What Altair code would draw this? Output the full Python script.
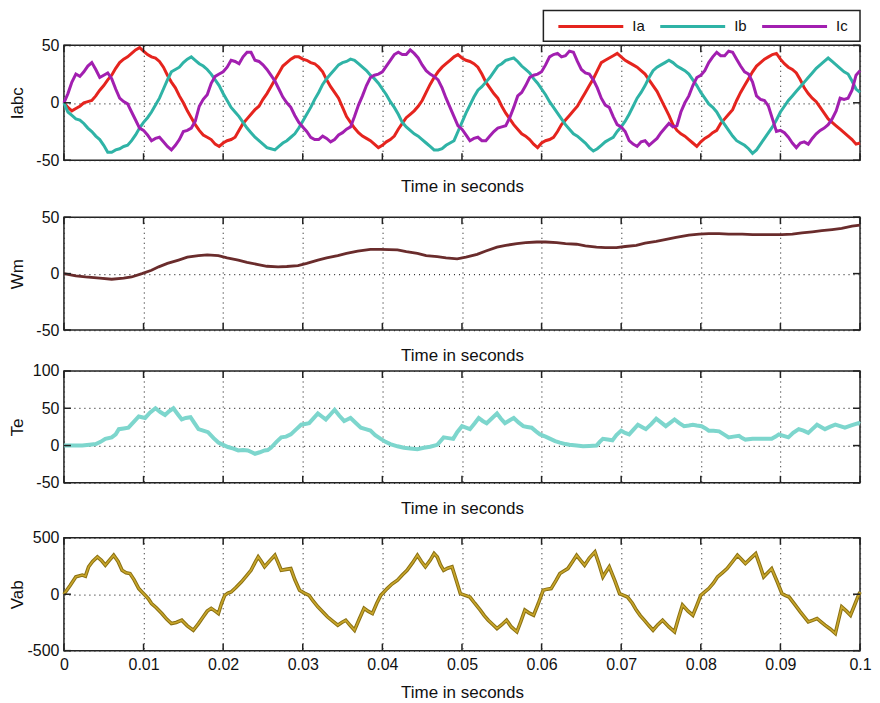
import altair as alt
import pandas as pd

# sampling grid of the phase currents, milliseconds
T_MS = [i * 0.5 for i in range(201)]

IA = [0, -4, -7, -5, -3, 0, 1, 2, 6, 11,
      15, 20, 24, 30, 35, 38, 40, 43, 46, 48,
      45, 42, 40, 39, 36, 31, 24, 18, 13, 6,
      0, -7, -13, -19, -24, -28, -30, -32, -36, -38,
      -35, -33, -32, -30, -24, -18, -14, -10, -6, -3,
      3, 8, 14, 20, 26, 32, 35, 38, 40, 40,
      38, 37, 35, 34, 31, 27, 20, 14, 9, 4,
      -4, -12, -17, -22, -26, -29, -31, -33, -36, -39,
      -37, -34, -32, -29, -23, -18, -13, -10, -7, -3,
      2, 9, 16, 22, 27, 31, 34, 37, 40, 42,
      39, 37, 36, 34, 31, 25, 18, 13, 8, 4,
      -3, -9, -14, -19, -23, -27, -29, -32, -36, -39,
      -35, -33, -32, -30, -25, -19, -15, -11, -7, -3,
      3, 9, 15, 21, 28, 35, 37, 39, 41, 43,
      40, 37, 35, 33, 31, 28, 25, 20, 15, 10,
      3, -4, -11, -19, -24, -27, -29, -32, -35, -38,
      -34, -31, -29, -26, -24, -18, -14, -10, -6, 2,
      9, 15, 21, 27, 32, 35, 38, 40, 42, 43,
      38, 34, 31, 29, 26, 20, 13, 8, 4, 1,
      -4, -9, -14, -17, -20, -23, -26, -29, -32, -36,
      -35]

IB = [0, -8, -11, -14, -15, -18, -22, -25, -29, -32,
      -37, -43, -43, -41, -40, -38, -37, -33, -28, -22,
      -17, -13, -8, -2, 4, 12, 20, 27, 29, 31,
      35, 38, 40, 37, 34, 32, 29, 25, 20, 15,
      8, 2, -4, -8, -12, -17, -22, -26, -30, -33,
      -36, -39, -40, -41, -38, -35, -33, -30, -27, -22,
      -16, -10, -4, 3, 9, 16, 21, 25, 29, 33,
      35, 36, 38, 37, 34, 31, 28, 24, 21, 17,
      12, 7, 1, -4, -10, -17, -21, -24, -27, -29,
      -32, -35, -38, -41, -41, -40, -37, -35, -33, -25,
      -17, -9, -2, 5, 11, 14, 18, 22, 27, 32,
      34, 37, 38, 39, 36, 32, 29, 26, 21, 17,
      12, 7, 1, -4, -9, -14, -19, -23, -27, -29,
      -32, -35, -39, -42, -40, -37, -34, -32, -30, -25,
      -21, -16, -10, -3, 4, 9, 15, 22, 28, 31,
      33, 35, 37, 35, 32, 30, 28, 25, 20, 15,
      9, 4, -1, -4, -8, -14, -19, -24, -29, -33,
      -35, -37, -40, -44, -41, -36, -31, -26, -21, -15,
      -8, -3, 2, 6, 10, 14, 18, 22, 26, 30,
      33, 36, 39, 36, 33, 30, 27, 25, 19, 12,
      9]

IC = [0, 8, 18, 25, 23, 27, 32, 35, 29, 22,
      24, 26, 21, 12, 4, 1, -1, -8, -15, -22,
      -24, -28, -33, -31, -30, -34, -38, -41, -37, -32,
      -25, -24, -22, -16, -3, 3, 7, 17, 23, 25,
      27, 31, 37, 36, 34, 40, 44, 44, 37, 36,
      33, 29, 24, 19, 12, 5, 0, -4, -11, -17,
      -21, -25, -30, -32, -32, -29, -31, -34, -32, -28,
      -26, -23, -21, -12, -2, 6, 15, 22, 24, 25,
      27, 32, 37, 42, 44, 42, 42, 46, 43, 39,
      33, 28, 25, 23, 20, 13, 4, -4, -12, -20,
      -23, -28, -33, -31, -30, -33, -33, -29, -25, -22,
      -21, -20, -13, -4, 6, 9, 15, 22, 24, 25,
      27, 33, 40, 42, 43, 40, 41, 45, 44, 36,
      29, 26, 25, 20, 13, 4, -2, -4, -12, -19,
      -21, -25, -33, -36, -38, -34, -33, -37, -34, -31,
      -26, -22, -18, -21, -20, -8, 0, 6, 15, 22,
      24, 28, 35, 40, 44, 41, 41, 45, 44, 38,
      32, 27, 25, 18, 6, 3, 2, -3, -14, -25,
      -24, -26, -30, -35, -39, -35, -34, -36, -31, -27,
      -24, -22, -19, -14, -7, 4, 3, 4, 11, 24,
      28]

WM_T = [0, 1.5, 2.7, 4.5, 6, 7.5, 8.5, 9.8, 11, 11.9, 13, 14.4, 15.5, 16.9, 18, 19.4,
        20.5, 21.9, 23, 24.4, 25.5, 26.9, 28, 29.4, 30.5, 31.9, 33, 34.4, 35.5, 36.9,
        38.5, 39.8, 41.9, 43, 44.4, 45.5, 46.9, 48, 49.4, 50.5, 51.9, 53, 54.4, 55.5,
        56.9, 58, 59.4, 60.5, 61.9, 63, 64.4, 65.5, 66.9, 68, 69.4, 70.5, 71.9, 73,
        74.4, 75.5, 76.9, 78.5, 79.8, 81, 82.3, 83.5, 85.2, 86.5, 87.7, 89, 90.2, 91.5,
        92.7, 94, 95.2, 96.5, 97.7, 99, 100]
WM_V = [0, -2, -3, -4, -5, -4, -3, 0, 3, 6, 9, 12, 14.5, 16, 16.5, 16,
        14, 12, 10, 8, 6.5, 6, 6.3, 7, 9, 12, 14, 16, 18, 20,
        21.5, 21.5, 21, 19.5, 18, 16, 15, 14, 13, 14.5, 17, 20, 23.5, 25,
        26.5, 27.5, 28, 28, 27.5, 26.5, 26, 24.5, 23.5, 23, 23, 24, 25, 27,
        28.5, 30, 32, 34, 35, 35.5, 35.5, 35, 35, 34.5, 34.5, 34.5, 34.5, 35,
        36, 37, 38, 39, 40, 42, 43]

TE_T = [0, 2.3, 3.2, 4, 4.6, 5.2, 6, 6.5, 6.9, 7.5, 8.1, 8.8, 9.4, 10.2, 10.8, 11.5,
        12.1, 12.7, 13.2, 13.75, 14.3, 14.8, 15.3, 15.9, 16.4, 16.9, 17.5, 18.1, 18.8,
        19.4, 20, 20.6, 21.3, 21.9, 22.5, 23.1, 23.6, 24, 24.6, 25.2, 25.6, 26, 26.7,
        27.3, 27.9, 28.5, 29.2, 29.8, 30.3, 30.8, 31.4, 31.9, 32.4, 32.9, 33.5, 34,
        34.6, 35.2, 35.6, 36, 36.7, 37.3, 37.9, 38.5, 39.1, 39.8, 40.4, 41, 41.9, 42.7,
        43.5, 44.4, 45.2, 46, 46.9, 47.7, 48.3, 48.9, 49.4, 50, 50.5, 51, 51.6, 52.1,
        52.6, 53.1, 53.8, 54.4, 54.9, 55.4, 56, 56.5, 57.1, 57.7, 58.2, 58.75, 59.3,
        59.8, 60.5, 61.1, 61.7, 62.3, 63, 63.5, 64.4, 65.2, 66, 66.9, 67.3, 67.7, 68.3,
        68.9, 69.4, 70, 70.5, 71, 71.6, 72.1, 72.6, 73.1, 73.8, 74.4, 75, 75.6, 76.1,
        76.7, 77.3, 77.9, 78.5, 79, 79.5, 80.1, 80.6, 81, 81.6, 82.3, 82.9, 83.5, 84.1,
        84.8, 85.2, 85.6, 86.5, 87.3, 88.1, 88.9, 89.4, 89.8, 90.4, 91, 91.6, 92.3,
        92.9, 93.5, 94, 94.6, 95.1, 95.6, 96.2, 96.9, 97.5, 98.1, 98.9, 99.8, 100]
TE_V = [0, 0, 1, 2, 5, 9, 11, 15, 22, 23, 24, 32, 39, 37, 44, 50,
        45, 41, 46, 50, 42, 35, 37, 38, 30, 22, 20, 18, 10,
        4, 1, -2, -4, -6.5, -6, -6.5, -9, -11, -9, -6.5, -6, -3, 5,
        11, 12, 15, 22, 28, 29, 30, 37, 43, 39, 35, 42, 48,
        40, 33, 35, 37, 30, 24, 22, 20, 14, 9, 5, 2, -1, -3,
        -4, -5, -3, -1.5, 1, 11, 10, 9, 18, 26, 24, 22, 30, 37,
        33, 30, 37, 43, 36, 30, 34, 37, 31, 26, 25, 24, 19,
        15, 12, 9, 6, 4, 2, 1, 0, -1, -0.5, 0, 5, 9, 8,
        7, 14, 20, 17, 15, 22, 28, 25, 22, 29, 36, 31, 26, 30,
        35, 30, 26, 27, 28, 27, 26, 23, 20, 20, 19, 15, 11, 12,
        13, 10, 8, 9, 9, 9, 9, 12, 15, 13, 11, 17, 22,
        20, 17, 22, 28, 25, 22, 25, 28, 26, 24, 27, 30, 29]

VAB_T = [0, 0.8, 1.5, 2.3, 2.7, 3.1, 3.6, 4.2, 4.7, 5.2, 5.7, 6.25, 6.8, 7.3, 7.8, 8.3,
         8.8, 9.4, 9.8, 10.2, 10.6, 11, 11.6, 12.3, 12.9, 13.5, 14.1, 14.8, 15.5, 16.25,
         16.9, 17.5, 18, 18.5, 19, 19.4, 19.8, 20.2, 20.6, 21, 21.6, 22.3, 22.9, 23.5,
         24, 24.4, 24.8, 25.2, 25.9, 26.5, 26.9, 27.3, 27.9, 28.5, 29, 29.6, 30.2, 30.8,
         31.3, 31.9, 32.5, 33.1, 33.8, 34.4, 34.9, 35.4, 36, 36.5, 37.1, 37.7, 38.2,
         38.75, 39.3, 39.8, 40.2, 40.6, 41.2, 41.9, 42.5, 43.1, 43.8, 44.4, 44.9, 45.4,
         46, 46.5, 46.9, 47.3, 47.7, 48.2, 48.75, 49.3, 49.8, 50.4, 51, 51.6, 52.3, 52.8,
         53.3, 53.9, 54.4, 55, 55.6, 56.2, 56.9, 57.4, 57.9, 58.4, 59, 59.6, 60.2, 60.7,
         61.2, 61.8, 62.3, 62.8, 63.3, 63.9, 64.4, 64.9, 65.4, 66, 66.7, 67.2, 67.7, 68.1,
         68.5, 69.2, 69.8, 70.3, 70.8, 71.4, 71.9, 72.4, 72.9, 73.5, 74, 74.6, 75.2, 76,
         76.7, 77.2, 77.7, 78.4, 79, 79.5, 80, 80.5, 81, 81.6, 82.1, 82.7, 83.3, 84, 84.6,
         85.1, 85.6, 86.3, 86.9, 87.4, 87.9, 88.4, 88.9, 89.6, 90.2, 90.6, 91.1, 91.8,
         92.5, 93, 93.5, 94.1, 94.6, 95.1, 95.6, 96.3, 96.9, 97.3, 97.7, 98.3, 98.8, 99.3,
         99.8, 100]
VAB_V = [0, 80, 154, 170, 160, 243, 290, 331, 300, 257, 300, 345, 290, 212, 190, 183,
         130, 50, 20, -10, -40, -82, -120, -171, -220, -259, -250, -230, -280, -319,
         -260, -200, -150, -125, -150, -171, -80, -10, 10, 20, 60, 110, 160, 212,
         280, 331, 290, 243, 300, 345, 280, 212, 220, 227, 130, 35, 10, -10,
         -60, -112, -155, -200, -240, -274, -250, -230, -280, -319, -220, -125, -150,
         -171, -80, -10, 20, 50, 90, 125, 170, 212, 280, 345, 290, 243,
         300, 360, 330, 260, 212, 230, 243, 120, 5, -10, -25, -80, -141, -190,
         -230, -270, -304, -270, -230, -290, -333, -240, -141, -165, -186, -80, 35, 45,
         50, 120, 183, 205, 227, 290, 345, 300, 257, 320, 375, 270, 154, 200,
         243, 120, 5, -10, -25, -80, -141, -190, -230, -280, -319, -270, -230, -290,
         -333, -210, -96, -150, -186, -100, -10, 20, 50, 100, 154, 190, 227, 290, 345,
         310, 272, 320, 360, 260, 154, 190, 227, 110, 5, -10, -25, -90,
         -156, -200, -245, -230, -215, -245, -274, -310, -348, -230, -112, -150, -186, -100,
         -10, 20]

SERIES = ["Ia", "Ib", "Ic"]
SERIES_COLORS = ["#e5241e", "#2fb3a6", "#a21fb0"]
X_TICKS = [0, 0.01, 0.02, 0.03, 0.04, 0.05, 0.06, 0.07, 0.08, 0.09, 0.1]
X_TITLE = "Time in seconds"

FONT = "Liberation Sans Narrow, Arial Narrow, Liberation Sans, sans-serif"
W = 797
TICK = "#222"

assert len(IA) == len(IB) == len(IC) == len(T_MS)
assert len(WM_T) == len(WM_V) and len(TE_T) == len(TE_V) and len(VAB_T) == len(VAB_V)


def x_enc(labels, title, title_pad, line_h=16):
    return alt.X("t:Q", scale=alt.Scale(domain=[0, 0.1], nice=False, zero=False),
                 axis=alt.Axis(values=X_TICKS, labels=labels, labelExpr="'' + datum.value",
                               labelFlush=False, labelOverlap=False, ticks=False, domain=False,
                               grid=True, title=title, titlePadding=title_pad,
                               titleLineHeight=line_h, labelPadding=6, minExtent=0))


def y_enc(domain, ticks, title):
    return alt.Y("v:Q", scale=alt.Scale(domain=domain, nice=False, zero=False),
                 axis=alt.Axis(values=ticks, labelExpr="'' + datum.value", labelFlush=False,
                               labelOverlap=False, ticks=False, domain=False, grid=True,
                               title=title, minExtent=31, maxExtent=31, titlePadding=6,
                               labelPadding=5))


def tick_layers(x, y, yticks, h):
    xt = pd.DataFrame({"t": X_TICKS})
    yt = pd.DataFrame({"v": yticks})
    rule = dict(color=TICK, strokeWidth=1.5)
    return [
        alt.Chart(xt).mark_rule(**rule).encode(x=x, y=alt.value(0), y2=alt.value(7)),
        alt.Chart(xt).mark_rule(**rule).encode(x=x, y=alt.value(h), y2=alt.value(h - 7)),
        alt.Chart(yt).mark_rule(**rule).encode(y=y, x=alt.value(0), x2=alt.value(7)),
        alt.Chart(yt).mark_rule(**rule).encode(y=y, x=alt.value(W - 7), x2=alt.value(W)),
    ]


color_scale = alt.Scale(domain=SERIES, range=SERIES_COLORS)

# ---- panel 1: phase currents
cur = pd.DataFrame({
    "t": [m / 1000 for m in T_MS] * 3,
    "v": IA + IB + IC,
    "s": ["Ia"] * len(IA) + ["Ib"] * len(IB) + ["Ic"] * len(IC),
})
H1 = 115
x1 = x_enc(False, [X_TITLE, " "], 18, 16)
y1 = y_enc([-50, 50], [-50, 0, 50], "Iabc")
lines1 = alt.Chart(cur).mark_line(strokeWidth=3).encode(
    x=x1, y=y1, color=alt.Color("s:N", scale=color_scale, legend=None))

# legend drawn as a boxed row of line samples above the panel
legend_layers = [
    alt.Chart(pd.DataFrame({"k": [0]})).mark_rect(fill="white", stroke="#222", strokeWidth=1.5)
    .encode(x=alt.value(480), x2=alt.value(797), y=alt.value(-35), y2=alt.value(-4))
]
for i, s in enumerate(SERIES):
    d = pd.DataFrame({"s": [s]})
    legend_layers.append(
        alt.Chart(d).mark_rule(strokeWidth=3).encode(
            x=alt.value(495 + 102 * i), x2=alt.value(560 + 102 * i), y=alt.value(-19),
            color=alt.Color("s:N", scale=color_scale, legend=None)))
    legend_layers.append(
        alt.Chart(d).mark_text(align="left", baseline="middle", fontSize=15, font=FONT,
                               color="#111").encode(
            x=alt.value(569 + 102 * i), y=alt.value(-19), text="s:N"))

p1 = alt.layer(lines1, *tick_layers(x1, y1, [-50, 0, 50], H1), *legend_layers).properties(
    width=W, height=H1)

# ---- panel 2: Wm
wm = pd.DataFrame({"t": [m / 1000 for m in WM_T], "v": WM_V})
H2 = 113
x2 = x_enc(False, X_TITLE, 18)
y2 = y_enc([-50, 50], [-50, 0, 50], "Wm")
lines2 = alt.Chart(wm).mark_line(strokeWidth=2.8, color="#6a2c2c").encode(x=x2, y=y2)
p2 = alt.layer(lines2, *tick_layers(x2, y2, [-50, 0, 50], H2)).properties(width=W, height=H2)

# ---- panel 3: Te
te = pd.DataFrame({"t": [m / 1000 for m in TE_T], "v": TE_V})
H3 = 112
x3 = x_enc(False, [X_TITLE, " "], 18, 14)
y3 = y_enc([-50, 100], [-50, 0, 50, 100], "Te")
lines3 = alt.Chart(te).mark_line(strokeWidth=4, color="#7dd6cd").encode(x=x3, y=y3)
p3 = alt.layer(lines3, *tick_layers(x3, y3, [-50, 0, 50, 100], H3)).properties(width=W, height=H3)

# ---- panel 4: Vab
vab = pd.DataFrame({"t": [m / 1000 for m in VAB_T], "v": VAB_V})
H4 = 113
x4 = x_enc(True, X_TITLE, 12)
y4 = y_enc([-500, 500], [-500, 0, 500], "Vab")
lines4a = alt.Chart(vab).mark_line(strokeWidth=3.6, color="#8a7012").encode(x=x4, y=y4)
lines4b = alt.Chart(vab).mark_line(strokeWidth=1.6, color="#c9a62a").encode(x=x4, y=y4)
p4 = alt.layer(lines4a, lines4b, *tick_layers(x4, y4, [-500, 0, 500], H4)).properties(width=W, height=H4)

chart = alt.vconcat(p1, p2, p3, p4, spacing=-3).properties(
    padding={"left": 0, "top": 0, "right": 0, "bottom": 0}
).configure_view(
    stroke="#222", strokeWidth=1.5
).configure_axis(
    labelFont=FONT, titleFont=FONT, labelFontSize=16, titleFontSize=17,
    titleFontWeight="normal", labelColor="#111", titleColor="#111",
    gridDash=[1, 4], gridColor="#333", gridWidth=1.2, gridOpacity=1,
)

chart.save("out.html", embed_options={"renderer": "svg", "actions": False})
